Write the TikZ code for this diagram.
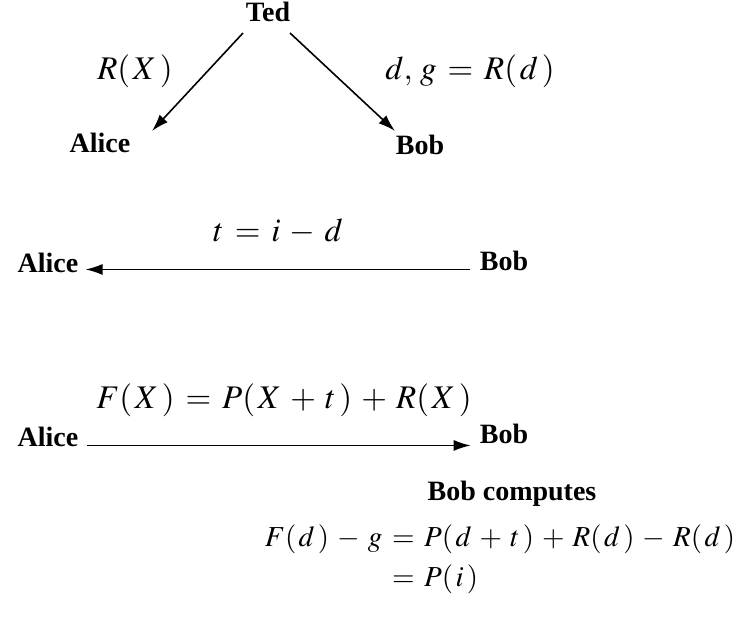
\documentclass[tikz,border=0pt]{standalone}
\usepackage{amsmath}
\usepackage{mathptmx}
\usepackage{fontspec}
\setmainfont{Liberation Serif}
\usetikzlibrary{arrows.meta}
\newcommand{\pp}[1]{(\mkern1.5mu #1\mkern2mu)}
\newcommand{\opgaps}{\thickmuskip=6mu\relax\medmuskip=5mu\relax}
\tikzset{
  who/.style={font=\fontsize{28}{32}\selectfont\bfseries, inner sep=0pt},
  eqn/.style={font={\fontsize{33}{38}\selectfont\opgaps}, inner sep=0pt},
  msg/.style={line width=1.6pt, -{Latex[length=17pt,width=11pt]}}
}

\begin{document}
\begin{tikzpicture}[x=1pt,y=-1pt]
\useasboundingbox (0,0) rectangle (740,622);
% Ted hands out the shares
\node[who] (ted) at (268,12) {Ted};
\node[who] (alice1) at (100,143) {Alice};
\node[who] (bob1) at (420,145) {Bob};
\coordinate (tedL) at (243,33);
\coordinate (tedR) at (290,33);
\coordinate (aliceIn) at (152,131);
\coordinate (bobIn) at (395,131);
\draw[msg] (tedL) -- (aliceIn);
\draw[msg] (tedR) -- (bobIn);
\node[eqn] (rx) at (135,71) {$R\pp{X}$};
\node[eqn] (dg) at (470,71) {$d,\, g = R\pp{d}$};
% Bob sends t
\node[eqn] (tid) at (278,232) {$t = i - d$};
\node[who,anchor=base] (alice2) at (48,272) {Alice};
\node[who,anchor=base] (bob2) at (504,270) {Bob};
\draw[msg, shorten <=10pt, shorten >=7pt] ([yshift=1pt]bob2.south west) -- ([yshift=1pt]bob2.south west -| alice2.south east);
% Alice sends F
\node[eqn] (fx) at (284,400) {$F\pp{X} = P\pp{X + t} + R\pp{X}$};
\node[who,anchor=base] (alice3) at (48,446) {Alice};
\node[who,anchor=base] (bob3) at (504,443) {Bob};
\draw[msg, shorten <=8pt, shorten >=9pt] ([yshift=1pt]alice3.south east) -- ([yshift=1pt]alice3.south east -| bob3.south west);
% Bob's check
\node[who] (comp) at (512,494) {Bob computes};
\node[eqn,anchor=north,font={\fontsize{29}{34}\selectfont\opgaps}] (calc) at (500,522)
  {$\begin{aligned} F\pp{d} - g &= P\pp{d + t} + R\pp{d} - R\pp{d}\\[3pt] &= P\pp{i}\end{aligned}$};
\end{tikzpicture}
\end{document}
